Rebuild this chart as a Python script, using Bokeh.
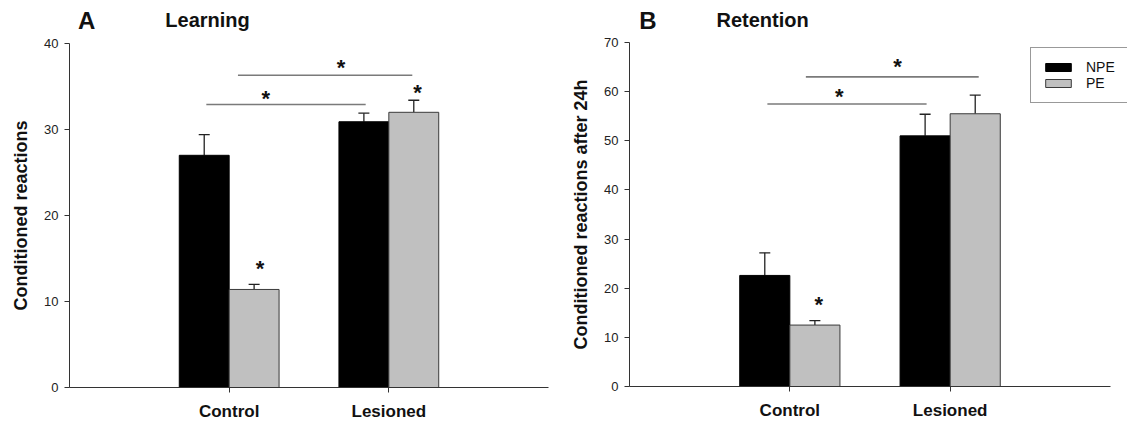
import numpy as np
from bokeh.plotting import figure
from bokeh.layouts import row, column
from bokeh.models import (Range1d, FixedTicker, Whisker, TeeHead, ColumnDataSource,
                          Legend, LegendItem)
from bokeh.core.properties import value
from bokeh.embed import file_html
from bokeh.resources import INLINE

FONT = "Liberation Sans"

# ---- data ----
groups = ["Control", "Lesioned"]
series_names = ["NPE", "PE"]

learn_npe = [27.0, 30.9]
learn_npe_err = [2.4, 1.0]
learn_pe = [11.4, 32.0]
learn_pe_err = [0.6, 1.4]
learn_yticks = [0, 10, 20, 30, 40]
learn_sig_x0 = [0.857, 1.055]
learn_sig_x1 = [1.855, 2.147]
learn_sig_y = [32.9, 36.3]
learn_star_x = [1.23, 1.70, 2.18, 1.194]
learn_star_y = [34.1, 37.7, 34.8, 14.3]

ret_npe = [22.6, 51.0]
ret_npe_err = [4.6, 4.4]
ret_pe = [12.5, 55.5]
ret_pe_err = [0.9, 3.8]
ret_yticks = [0, 10, 20, 30, 40, 50, 60, 70]
ret_sig_x0 = [0.86, 1.10]
ret_sig_x1 = [1.853, 2.178]
ret_sig_y = [57.5, 63.0]
ret_star_x = [1.309, 1.671, 1.18]
ret_star_y = [59.8, 65.9, 17.5]

BW = 0.3125
HEADER_H = 36


def header(width, letter, letter_x, title, title_x):
    h = figure(width=width, height=HEADER_H, x_range=Range1d(0, width),
               y_range=Range1d(0, HEADER_H), x_axis_type=None, y_axis_type=None,
               output_backend="svg", toolbar_location=None, min_border=0)
    h.grid.visible = False
    h.outline_line_color = None
    h.text(x=[letter_x], y=[HEADER_H - 28], text=[letter], text_font=value(FONT),
           text_font_style="bold", text_font_size="24px", text_baseline="alphabetic",
           text_align="left", text_color="#111111", y_offset=-8)
    h.text(x=[title_x], y=[HEADER_H - 26], text=[title], text_font=value(FONT),
           text_font_style="bold", text_font_size="20px", text_baseline="alphabetic",
           text_align="left", text_color="#111111", y_offset=-7)
    return h


def panel(ylabel, yticks, npe, npe_err, pe, pe_err, sx0, sx1, sy, stx, sty,
          frame_w, xmax, bl, br, bt, legend=False):
    p = figure(frame_width=frame_w, frame_height=344, x_range=Range1d(0, xmax),
               y_range=Range1d(0, yticks[-1]), output_backend="svg",
               toolbar_location=None, min_border_left=bl, min_border_right=br,
               min_border_top=bt, min_border_bottom=36)
    p.grid.visible = False
    p.outline_line_color = None
    p.background_fill_color = "white"
    p.border_fill_color = "white"

    xs = np.arange(1, len(groups) + 1, dtype=float)
    npe_a = np.array(npe)
    pe_a = np.array(pe)
    src = ColumnDataSource(dict(
        npe_x=xs - BW / 2, pe_x=xs + BW / 2,
        npe=npe_a, pe=pe_a,
        npe_top=npe_a + np.array(npe_err), pe_top=pe_a + np.array(pe_err)))

    r1 = p.vbar(x="npe_x", top="npe", bottom=0, width=BW, fill_color="black",
                line_color="black", line_width=1, source=src)
    r2 = p.vbar(x="pe_x", top="pe", bottom=0, width=BW, fill_color="#c0c0c0",
                line_color="#3a3a3a", line_width=1, source=src)

    for base, lo, hi in (("npe_x", "npe", "npe_top"), ("pe_x", "pe", "pe_top")):
        w = Whisker(base=base, lower=lo, upper=hi, source=src, dimension="height",
                    line_color="#222222", line_width=1.3,
                    upper_head=TeeHead(size=11, line_color="#222222", line_width=1.3),
                    lower_head=None)
        p.add_layout(w)

    p.segment(x0=sx0, y0=sy, x1=sx1, y1=sy, line_color="#7a7a7a", line_width=1.6)
    p.text(x=stx, y=sty, text=["*"] * len(stx), text_font=value(FONT),
           text_font_style="bold", text_font_size="22px", text_align="center",
           text_baseline="alphabetic", y_offset=4, text_color="#111111")

    xa = p.xaxis[0]
    xa.bounds = (0, 3)
    xa.ticker = FixedTicker(ticks=list(xs))
    xa.major_label_overrides = {int(x): g for x, g in zip(xs, groups)}
    xa.major_label_text_font = FONT
    xa.major_label_text_font_style = "bold"
    xa.major_label_text_font_size = "17px"
    xa.major_label_text_color = "#111111"
    xa.major_label_standoff = 9
    xa.major_tick_out = 5
    xa.major_tick_in = 0
    xa.minor_tick_out = 0
    xa.minor_tick_in = 0
    xa.axis_line_color = "#333333"
    xa.major_tick_line_color = "#333333"

    ya = p.yaxis[0]
    ya.ticker = FixedTicker(ticks=yticks)
    ya.major_label_text_font = FONT
    ya.major_label_text_font_size = "13px"
    ya.major_label_text_color = "#222222"
    ya.major_label_standoff = 6
    ya.major_tick_out = 5
    ya.major_tick_in = 0
    ya.minor_tick_out = 0
    ya.minor_tick_in = 0
    ya.axis_line_color = "#333333"
    ya.major_tick_line_color = "#333333"
    ya.axis_label = ylabel
    ya.axis_label_text_font = FONT
    ya.axis_label_text_font_style = "bold"
    ya.axis_label_text_font_size = "18px"
    ya.axis_label_text_color = "#111111"
    ya.axis_label_standoff = 10

    if legend:
        lg = Legend(items=[LegendItem(label=series_names[0], renderers=[r1]),
                           LegendItem(label=series_names[1], renderers=[r2])],
                    location=(401, 283), glyph_width=32, glyph_height=10,
                    label_standoff=12, padding=11, spacing=0, label_height=16,
                    label_width=60, margin=0,
                    border_line_color="#333333", border_line_width=1,
                    label_text_font=FONT, label_text_font_size="14px",
                    label_text_color="#111111",
                    background_fill_color="white", background_fill_alpha=1)
        p.add_layout(lg)
    return p


hA = header(560, "A", 10, "Learning", 112)
pA = panel("Conditioned reactions", learn_yticks,
           learn_npe, learn_npe_err, learn_pe, learn_pe_err,
           learn_sig_x0, learn_sig_x1, learn_sig_y, learn_star_x, learn_star_y,
           frame_w=479, xmax=3.0, bl=69, br=12, bt=7)

hB = header(567, "B", 11, "Retention", 99)
pB = panel("Conditioned reactions after 24h", ret_yticks,
           ret_npe, ret_npe_err, ret_pe, ret_pe_err,
           ret_sig_x0, ret_sig_x1, ret_sig_y, ret_star_x, ret_star_y,
           frame_w=498, xmax=3.0 * 498 / 481, bl=69, br=0, bt=6, legend=True)

layout = row(column(hA, pA), column(hB, pB))
open("out.html", "w").write(file_html(layout, INLINE))
